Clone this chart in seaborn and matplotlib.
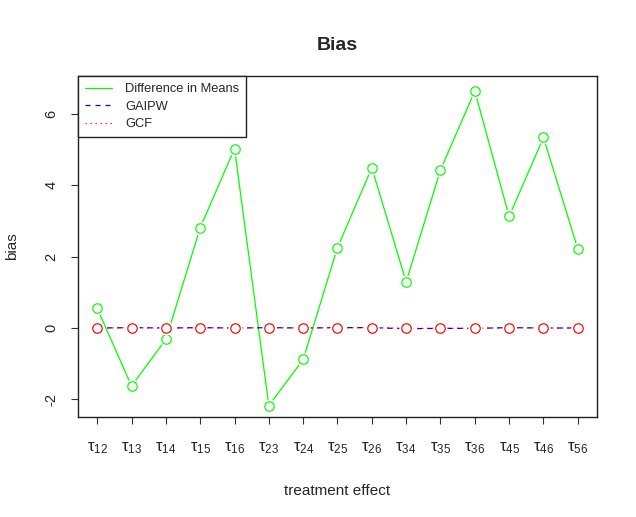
import numpy as np
import pandas as pd
import seaborn as sns
import matplotlib
matplotlib.use("Agg")
import matplotlib.pyplot as plt

# effects and bias values
effects = ["12", "13", "14", "15", "16", "23", "24", "25", "26",
           "34", "35", "36", "45", "46", "56"]
bias_dim = [0.55, -1.62, -0.32, 2.80, 5.02, -2.17, -0.88, 2.25, 4.48,
            1.29, 4.42, 6.63, 3.12, 5.33, 2.21]
bias_gaipw = [0.0, 0.01, 0.0, 0.01, 0.0, 0.01, 0.0, 0.01, 0.01,
              -0.02, -0.01, -0.01, 0.01, 0.0, 0.0]
bias_gcf = [0.0, 0.01, 0.0, 0.01, 0.0, 0.01, 0.0, 0.01, 0.01,
            -0.01, -0.01, -0.01, 0.01, 0.0, 0.0]

tick_labels = ["τ$_{%s}$" % e for e in effects]
x = np.arange(1, len(effects) + 1)

sns.set_style("white")
plt.rcParams["font.family"] = ["Liberation Sans", "DejaVu Sans"]
plt.rcParams["mathtext.fontset"] = "custom"
plt.rcParams["mathtext.rm"] = "Liberation Sans"
plt.rcParams["mathtext.default"] = "rm"

fig = plt.figure(figsize=(6.36, 5.17), dpi=100)
ax = fig.add_axes([0.1226, 0.1934, 0.8161, 0.6596])

series = [
    ("Difference in Means", bias_dim, "#00FF00", "-"),
    ("GAIPW", bias_gaipw, "#0000FF", (0, (4, 4))),
    ("GCF", bias_gcf, "#FF0000", (0, (1, 3))),
]

z = 2
for name, vals, col, ls in series:
    df = pd.DataFrame({"x": x, "y": vals})
    sns.lineplot(data=df, x="x", y="y", ax=ax, color=col, linestyle=ls,
                 linewidth=0.9, label=name, zorder=z)
    # white halo so the line stops short of each point, like type="b" in R
    ax.plot(x, vals, linestyle="none", marker="o", markersize=10,
            markerfacecolor="white", markeredgecolor="none", zorder=z + 0.1)
    ax.plot(x, vals, linestyle="none", marker="o", markersize=6.8,
            markerfacecolor="none", markeredgecolor=col, markeredgewidth=0.85,
            zorder=z + 0.2)
    z += 1

ax.set_xlim(0.44, 15.56)
ax.set_ylim(-2.49, 7.05)
ax.set_xticks(x)
ax.set_xticklabels(tick_labels, fontsize=12)
ax.set_yticks([-2, 0, 2, 4, 6])
ax.set_yticklabels(["-2", "0", "2", "4", "6"], rotation=90, va="center", fontsize=10.5)
ax.tick_params(axis="both", direction="out", length=5, width=0.8,
               color="#333333", bottom=True, left=True)
ax.tick_params(axis="x", pad=12)
ax.tick_params(axis="y", pad=9)
for sp in ax.spines.values():
    sp.set_visible(True)
    sp.set_color("#222222")
    sp.set_linewidth(1.0)

ax.set_xlabel("treatment effect", fontsize=11, labelpad=20)
ax.set_ylabel("bias", fontsize=11, labelpad=18)
ax.set_title("Bias", fontsize=14, fontweight="bold", pad=19)

leg = ax.legend(loc="upper left", borderaxespad=0, fancybox=False,
                edgecolor="#222222", fontsize=9.3, handlelength=2.1,
                handletextpad=1.0, labelspacing=0.42, borderpad=0.55,
                framealpha=1)
leg.get_frame().set_linewidth(1.0)

fig.savefig("out.png", dpi=100)
